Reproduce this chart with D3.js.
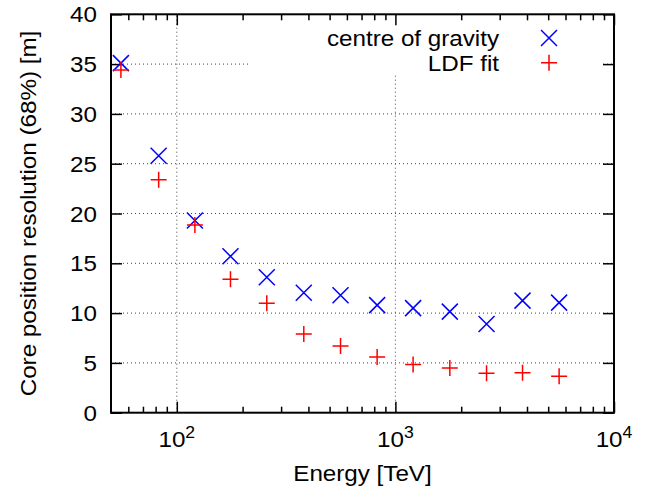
<!DOCTYPE html>
<html>
<head>
<meta charset="utf-8">
<script src="https://cdn.jsdelivr.net/npm/d3@7"></script>
<style>
  body { margin: 0; background: #fff; }
  text { font-family: "Liberation Sans", Arial, Helvetica, sans-serif; fill: #000; }
</style>
</head>
<body>
<div id="chart"></div>
<script>
// values
var energy = [55.5, 82.6, 121, 176, 258, 381, 561, 825, 1205, 1774, 2612, 3815, 5610];
var cog    = [35.1, 25.8, 19.3, 15.7, 13.6, 12.05, 11.8, 10.8, 10.5, 10.15, 8.9, 11.25, 11.05];
var ldf    = [34.4, 23.4, 18.85, 13.4, 11.0, 7.9, 6.7, 5.6, 4.85, 4.5, 3.95, 4.0, 3.65];

var seriesNames = ["centre of gravity", "LDF fit"];
var yTicks = [0, 5, 10, 15, 20, 25, 30, 35, 40];
var yGrid = [5, 10, 15, 20, 25, 30, 35];
var xTicks = [100, 1000, 10000];
var xTickExp = ["2", "3", "4"];
var xGrid = [100, 1000];
var xMinor = [60, 70, 80, 90, 200, 300, 400, 500, 600, 700, 800, 900,
              2000, 3000, 4000, 5000, 6000, 7000, 8000, 9000];

var width = 659, height = 491;
var margin = {top: 14.3, left: 111, right: 45, bottom: 78.3};

var svg = d3.select("#chart")
    .append("svg")
    .attr("width", width)
    .attr("height", height);

var x = d3.scaleLog()
    .domain([50, 10000])
    .range([margin.left, width - margin.right]);

var y = d3.scaleLinear()
    .domain([0, 40])
    .range([height - margin.bottom, margin.top]);

var x0 = x.range()[0], x1 = x.range()[1];
var y0 = y.range()[0], y1 = y.range()[1];

// text in the picture is a bit wider than Liberation Sans, so stretch it
function label(str, tx, ty, anchor, rot) {
    return svg.append("text")
        .attr("transform", "translate(" + tx + "," + ty + ")" + (rot ? " rotate(-90)" : "") + " scale(1.1,1)")
        .attr("text-anchor", anchor)
        .style("font-size", "22px")
        .text(str);
}

// grid
var grid = svg.append("g")
    .attr("stroke", "#444")
    .attr("stroke-width", 1)
    .attr("stroke-dasharray", "1,3");

grid.selectAll(".hgrid")
    .data(yGrid).enter().append("line")
    .attr("x1", x0).attr("x2", x1)
    .attr("y1", function(d){ return y(d); })
    .attr("y2", function(d){ return y(d); });

grid.selectAll(".vgrid")
    .data(xGrid).enter().append("line")
    .attr("x1", function(d){ return x(d); })
    .attr("x2", function(d){ return x(d); })
    .attr("y1", y0).attr("y2", y1);

// key area hides the grid behind it
svg.append("rect")
    .attr("x", 249).attr("y", y1)
    .attr("width", 351).attr("height", 75 - y1)
    .attr("fill", "#fff");

// axes (ticks point inwards)
function ticksOnly(axis) {
    return function(g){
        g.call(axis);
        g.select(".domain").remove();
        g.selectAll("text").remove();
        g.selectAll("line").attr("stroke", "#000").attr("stroke-width", 1.5);
    };
}

svg.append("g").attr("transform", "translate(0," + y0 + ")")
    .call(ticksOnly(d3.axisBottom(x).tickValues(xTicks).tickSize(-11).tickSizeOuter(0)));
svg.append("g").attr("transform", "translate(0," + y0 + ")")
    .call(ticksOnly(d3.axisBottom(x).tickValues(xMinor).tickSize(-6).tickSizeOuter(0)));
svg.append("g").attr("transform", "translate(0," + y1 + ")")
    .call(ticksOnly(d3.axisTop(x).tickValues(xTicks).tickSize(-11).tickSizeOuter(0)));
svg.append("g").attr("transform", "translate(0," + y1 + ")")
    .call(ticksOnly(d3.axisTop(x).tickValues(xMinor).tickSize(-6).tickSizeOuter(0)));
svg.append("g").attr("transform", "translate(" + x0 + ",0)")
    .call(ticksOnly(d3.axisLeft(y).tickValues(yTicks).tickSize(-11).tickSizeOuter(0)));
svg.append("g").attr("transform", "translate(" + x1 + ",0)")
    .call(ticksOnly(d3.axisRight(y).tickValues(yTicks).tickSize(-11).tickSizeOuter(0)));

// frame
svg.append("rect")
    .attr("x", x0).attr("y", y1)
    .attr("width", x1 - x0).attr("height", y0 - y1)
    .attr("fill", "none")
    .attr("stroke", "#000")
    .attr("stroke-width", 2);

// tick labels
yTicks.forEach(function(d){
    label(d, x0 - 14, y(d) + 8, "end");
});

xTicks.forEach(function(d, i){
    var t = label("", x(d), 446.5, "middle");
    t.append("tspan").text("10");
    t.append("tspan").attr("dy", -9).style("font-size", "16px").text(xTickExp[i]);
});

// axis titles
label("Energy [TeV]", (x0 + x1) / 2, 481, "middle");
label("Core position resolution (68%) [m]", 35.5, (y0 + y1) / 2, "middle", true);

// markers
var half = 8;
function crossPath(cx, cy) {
    return "M" + (cx - half) + "," + (cy - half) + "L" + (cx + half) + "," + (cy + half) +
           "M" + (cx - half) + "," + (cy + half) + "L" + (cx + half) + "," + (cy - half);
}
function plusPath(cx, cy) {
    return "M" + (cx - half) + "," + cy + "L" + (cx + half) + "," + cy +
           "M" + cx + "," + (cy - half) + "L" + cx + "," + (cy + half);
}

svg.selectAll(".cog")
    .data(energy).enter().append("path")
    .attr("class", "cog")
    .attr("d", function(d, i){ return crossPath(x(d), y(cog[i])); })
    .attr("stroke", "#0000ff")
    .attr("stroke-width", 1.5)
    .attr("fill", "none");

svg.selectAll(".ldf")
    .data(energy).enter().append("path")
    .attr("class", "ldf")
    .attr("d", function(d, i){ return plusPath(x(d), y(ldf[i])); })
    .attr("stroke", "#ff0000")
    .attr("stroke-width", 1.5)
    .attr("fill", "none");

// key
label(seriesNames[0], 499, 46, "end");
label(seriesNames[1], 499, 70.7, "end");
svg.append("path").attr("d", crossPath(549, 38))
    .attr("stroke", "#0000ff").attr("stroke-width", 1.5).attr("fill", "none");
svg.append("path").attr("d", plusPath(549, 62.7))
    .attr("stroke", "#ff0000").attr("stroke-width", 1.5).attr("fill", "none");
</script>
</body>
</html>
